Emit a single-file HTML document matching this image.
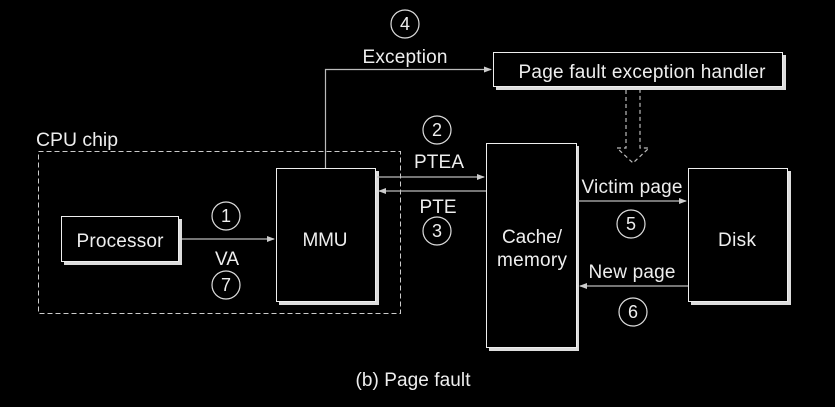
<!DOCTYPE html>
<html><head><style>body{margin:0;background:#000}svg{display:block}</style></head><body>
<svg width="835" height="407" viewBox="0 0 835 407" xmlns="http://www.w3.org/2000/svg" font-family="Liberation Sans, sans-serif" fill="#eee">
<defs><marker id="a" markerWidth="8" markerHeight="6" refX="7" refY="3" orient="auto" markerUnits="userSpaceOnUse"><path d="M0,0 L8,3 L0,6 Z" fill="#ccc"/></marker></defs>
<rect width="835" height="407" fill="#000"/>
<rect x="38.5" y="151.5" width="362" height="162" fill="none" stroke="#ccc" stroke-dasharray="5,3"/>
<text x="36" y="146" font-size="19" textLength="82" lengthAdjust="spacingAndGlyphs">CPU chip</text>
<g fill="#ddd">
<rect x="64" y="219" width="118" height="46"/>
<rect x="279" y="171" width="100" height="134"/>
<rect x="496" y="55" width="290" height="35"/>
<rect x="489" y="146" width="90" height="205"/>
<rect x="691" y="171" width="100" height="134"/>
</g>
<g fill="#000" stroke="#eee" stroke-width="1">
<rect x="61.5" y="216.5" width="117" height="45"/>
<rect x="276.5" y="168.5" width="99" height="133"/>
<rect x="493.5" y="52.5" width="289" height="34"/>
<rect x="486.5" y="143.5" width="90" height="204"/>
<rect x="688.5" y="168.5" width="99" height="133"/>
</g>
<g font-size="19" text-anchor="middle" lengthAdjust="spacingAndGlyphs">
<text x="120" y="247" textLength="87">Processor</text>
<text x="325" y="246" textLength="45">MMU</text>
<text x="642" y="78" textLength="247">Page fault exception handler</text>
<text x="532" y="243" textLength="60">Cache/</text>
<text x="532" y="266" textLength="70">memory</text>
<text x="737" y="246" textLength="38">Disk</text>
<text x="227" y="265" textLength="24">VA</text>
<text x="405" y="63" textLength="85">Exception</text>
<text x="439" y="168" textLength="50">PTEA</text>
<text x="438" y="213" textLength="37">PTE</text>
<text x="632" y="193" textLength="101">Victim page</text>
<text x="632" y="278" textLength="87">New page</text>
<text x="413" y="386" textLength="115">(b) Page fault</text>
</g>
<g stroke="#bbb" fill="none" stroke-width="1.2">
<line x1="182" y1="239" x2="274" y2="239" marker-end="url(#a)"/>
<polyline points="325.5,168 325.5,69.5 491,69.5" marker-end="url(#a)"/>
<line x1="377" y1="177" x2="484" y2="177" marker-end="url(#a)"/>
<line x1="486" y1="191" x2="379" y2="191" marker-end="url(#a)"/>
<line x1="578" y1="201" x2="686" y2="201" marker-end="url(#a)"/>
<line x1="688" y1="286" x2="580" y2="286" marker-end="url(#a)"/>
<path d="M626 90 V148 H617 L633 163 L649 148 H640 V90" stroke-dasharray="4,3"/>
</g>
<g stroke="#ddd" fill="none" stroke-width="1.2">
<circle cx="226" cy="216" r="14"/><circle cx="226" cy="285" r="14"/>
<circle cx="405" cy="24" r="14"/><circle cx="437" cy="130" r="14"/>
<circle cx="437" cy="231" r="14"/><circle cx="631" cy="224" r="14"/>
<circle cx="633" cy="312" r="14"/>
</g>
<g font-size="18" text-anchor="middle">
<text x="226" y="222">1</text><text x="226" y="291">7</text>
<text x="405" y="30">4</text><text x="437" y="136">2</text>
<text x="437" y="237">3</text><text x="631" y="230">5</text>
<text x="633" y="318">6</text>
</g>
</svg>
</body></html>
